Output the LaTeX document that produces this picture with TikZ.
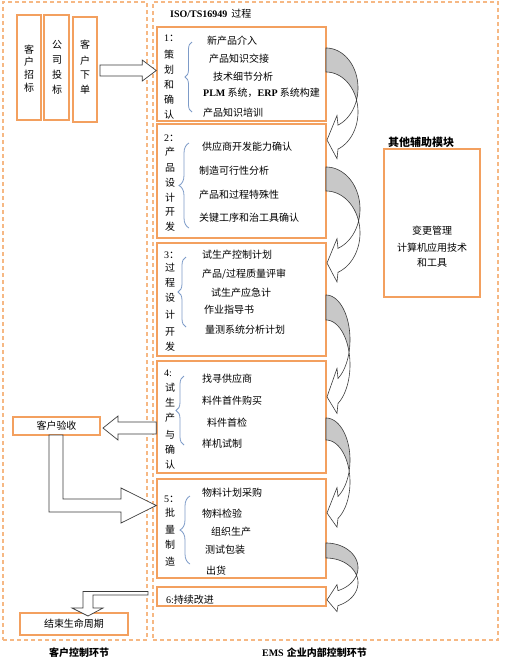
\documentclass[tikz,border=0pt]{standalone}
\usepackage{fontspec}
\setmainfont{Liberation Serif}
\newfontfamily\cjk{Noto Sans CJK SC}
\usetikzlibrary{decorations.pathreplacing,calc}
\definecolor{boxor}{RGB}{243,160,95}
\definecolor{dashor}{RGB}{246,184,132}
\definecolor{bracecol}{RGB}{125,155,200}
\definecolor{shade}{RGB}{200,200,200}
\definecolor{edge}{RGB}{60,60,60}
\newcommand\bendarrow[5]{%
  \pgfmathsetmacro\yAc{#2+#4}%
  \pgfmathsetmacro\yBc{#2+#4+#3}%
  \pgfmathsetmacro\thA{asin(#3/(2*#4))}%
  \pgfmathsetmacro\thE{acos(12/#5)}%
  \pgfmathsetmacro\yAe{\yAc+#4*sin(\thE)}%
  \pgfmathsetmacro\yBe{\yBc+#4*sin(\thE)}%
  \pgfmathsetmacro\ytip{\yAc+#4+#3/2}%
  \filldraw[fill=shade,draw=edge,line width=0.6pt]
    plot[domain=-90:\thA,samples=40,variable=\q] ({#1+#5*cos(\q)},{\yAc+#4*sin(\q)})
    -- plot[domain=-\thA:-90,samples=40,variable=\q] ({#1+#5*cos(\q)},{\yBc+#4*sin(\q)}) -- cycle;
  \filldraw[fill=white,draw=edge,line width=0.6pt]
    plot[domain=\thA:\thE,samples=40,variable=\q] ({#1+#5*cos(\q)},{\yAc+#4*sin(\q)})
    -- ({#1+11},{\yAe-0.4*#3}) -- ({#1+1},\ytip) -- ({#1+11},{\yBe+0.4*#3})
    -- plot[domain=\thE:-\thA,samples=40,variable=\q] ({#1+#5*cos(\q)},{\yBc+#4*sin(\q)}) -- cycle;
}
\begin{document}
\begin{tikzpicture}[x=1pt,y=-1pt,
  stagebox/.style={draw=boxor,line width=1.5pt,inner sep=0pt},
  zone/.style={draw=dashor,line width=1.3pt,dash pattern=on 4pt off 3pt,inner sep=0pt},
  txt/.style={font=\fontsize{10}{12}\selectfont\cjk,inner sep=0pt,anchor=west},
  vch/.style={font=\fontsize{10}{12}\selectfont\cjk,inner sep=0pt},
  brc/.style={draw=bracecol,line width=0.8pt,decorate,decoration={brace,amplitude=#1}},
  blockarrow/.style={draw=edge,fill=white,line width=0.7pt},
]
\useasboundingbox (0,0) rectangle (504,662);
\fill[white] (0,0) rectangle (504,662);
% zones
\node[zone,minimum width=144,minimum height=638] (zl) at (75,321) {};
\node[zone,minimum width=345,minimum height=638] (zr) at (325.5,321) {};
% left customer boxes
\node[stagebox,minimum width=24,minimum height=105] (c1) at (29,67.5) {};
\node[stagebox,minimum width=25,minimum height=105] (c2) at (56.5,67.5) {};
\node[stagebox,minimum width=24,minimum height=105] (c3) at (85,69.5) {};
\foreach \c/\yy [count=\k] in {客/50,户/62,招/75,标/88} \node[vch] (c1-\k) at (29,\yy) {\c};
\foreach \c/\yy [count=\k] in {公/45,司/60,投/75,标/90} \node[vch] (c2-\k) at (57,\yy) {\c};
\foreach \c/\yy [count=\k] in {客/45,户/61,下/75,单/90} \node[vch] (c3-\k) at (85,\yy) {\c};
% stage boxes
\node[stagebox,minimum width=169,minimum height=94] (s1) at (241.5,74) {};
\node[stagebox,minimum width=169,minimum height=114] (s2) at (241.5,181) {};
\node[stagebox,minimum width=169,minimum height=113] (s3) at (241.5,299.5) {};
\node[stagebox,minimum width=169,minimum height=112] (s4) at (241.5,417) {};
\node[stagebox,minimum width=169,minimum height=99] (s5) at (241.5,528.5) {};
\node[stagebox,minimum width=169,minimum height=19] (s6) at (241.5,596.5) {};
% other boxes
\node[stagebox,minimum width=96,minimum height=148] (m) at (432,223) {};
\node[stagebox,minimum width=87,minimum height=18] (v1) at (56.5,426) {};
\node[vch] (v1t) at (56.5,426) {客户验收};
\node[stagebox,minimum width=108,minimum height=22] (e1) at (74,624) {};
\node[vch] (e1t) at (74,624) {结束生命周期};
% titles
\node[txt] (title) at (170,14) {\rmfamily\bfseries ISO/TS16949\hspace{4pt}\cjk\mdseries 过程};
\node[vch,font=\fontsize{11}{13}\selectfont\cjk\bfseries] (mt) at (421,142) {其他辅助模块};
\node[vch] (m1) at (432,231) {变更管理};
\node[vch] (m2) at (432,248) {计算机应用技术};
\node[vch] (m3) at (432,263) {和工具};
\node[vch,font=\fontsize{10}{12}\selectfont\cjk\bfseries] (lb1) at (79,653) {客户控制环节};
\node[txt,anchor=east] (lb2) at (367,653) {\rmfamily\bfseries EMS\hspace{3pt}\cjk 企业内部控制环节};
% stage 1
\node[txt] (n1) at (164,38) {\rmfamily 1\cjk ：};
\foreach \c/\yy [count=\k] in {策/55,划/70,和/85,确/100,认/115} \node[vch] (v1-\k) at (169,\yy) {\c};
\draw[brc=7pt] (192,112) -- (192,42);
\node[txt] (i11) at (207,41) {新产品介入};
\node[txt] (i12) at (209,59) {产品知识交接};
\node[txt] (i13) at (213,77) {技术细节分析};
\node[txt] (i14) at (203,93) {\rmfamily\bfseries PLM\cjk\mdseries\ 系统，\rmfamily\bfseries ERP\cjk\mdseries\ 系统构建};
\node[txt] (i15) at (203,113) {产品知识培训};
% stage 2
\node[txt] (n2) at (164,138) {\rmfamily 2\cjk ：};
\foreach \c/\yy [count=\k] in {产/152,品/168,设/183,计/198,开/212,发/227} \node[vch] (v2-\k) at (170,\yy) {\c};
\draw[brc=10pt] (189,228) -- (189,143);
\node[txt] (i21) at (202,147) {供应商开发能力确认};
\node[txt] (i22) at (199,171) {制造可行性分析};
\node[txt] (i23) at (199,195) {产品和过程特殊性};
\node[txt] (i24) at (199,218) {关键工序和治工具确认};
% stage 3
\node[txt] (n3) at (164,255) {\rmfamily 3\cjk ：};
\foreach \c/\yy [count=\k] in {过/268,程/283,设/298,计/315,开/332,发/347} \node[vch] (v3-\k) at (170,\yy) {\c};
\draw[brc=8pt] (186,327) -- (186,257);
\node[txt] (i31) at (202,255) {试生产控制计划};
\node[txt] (i32) at (202,274) {产品/过程质量评审};
\node[txt] (i33) at (211,293) {试生产应急计};
\node[txt] (i34) at (204,310) {作业指导书};
\node[txt] (i35) at (205,330) {量测系统分析计划};
% stage 4
\node[txt] (n4) at (164,373) {\rmfamily 4:};
\foreach \c/\yy [count=\k] in {试/388,生/403,产/418,与/435,确/450,认/465} \node[vch] (v4-\k) at (170,\yy) {\c};
\draw[brc=8pt] (184,445) -- (184,376);
\node[txt] (i41) at (202,379) {找寻供应商};
\node[txt] (i42) at (202,401) {料件首件购买};
\node[txt] (i43) at (207,423) {料件首检};
\node[txt] (i44) at (202,444) {样机试制};
% stage 5
\node[txt] (n5) at (164,499) {\rmfamily 5\cjk ：};
\foreach \c/\yy [count=\k] in {批/513,量/530,制/545,造/562} \node[vch] (v5-\k) at (170,\yy) {\c};
\draw[brc=10pt] (190,564) -- (190,496);
\node[txt] (i51) at (202,493) {物料计划采购};
\node[txt] (i52) at (202,514) {物料检验};
\node[txt] (i53) at (211,532) {组织生产};
\node[txt] (i54) at (205,550) {测试包装};
\node[txt] (i55) at (206,571) {出货};
% stage 6
\node[txt] (i61) at (166,600) {\rmfamily 6:\cjk 持续改进};
% block arrows
\coordinate (aT) at (100,70.5);
\coordinate (aH) at (s1.west |- aT);
\draw[blockarrow] ($(aT)+(0,-5.5)$) -- ($(aH)+(-14,-5.5)$) -- ($(aH)+(-14,-10.5)$) -- (aH)
  -- ($(aH)+(-14,10.5)$) -- ($(aH)+(-14,5.5)$) -- ($(aT)+(0,5.5)$) -- cycle;
\coordinate (y428) at (0,428);
\coordinate (bT) at (s4.west |- y428);
\coordinate (bH) at (103,428);
\draw[blockarrow] ($(bT)+(0,-6)$) -- ($(bH)+(15,-6)$) -- ($(bH)+(15,-12)$) -- (bH)
  -- ($(bH)+(15,12)$) -- ($(bH)+(15,6)$) -- ($(bT)+(0,6)$) -- cycle;
\coordinate (y505) at (0,505.5);
\coordinate (cH) at (s5.west |- y505);
\draw[blockarrow] (49,435) -- (49,512) -- (121,512) -- (121,523) -- (cH) -- (121,488)
  -- (121,499) -- (63,499) -- (63,435) -- cycle;
\draw[blockarrow] (148,591.5) -- (83,591.5) -- (83,608) -- (72,608) -- (88,616) -- (103,608)
  -- (93,608) -- (93,595) -- (148,595) -- cycle;
% curved arrows between stages
\bendarrow{326}{48}{24}{40}{32}
\bendarrow{326}{167}{24}{42}{34}
\bendarrow{326}{295}{25}{44.7}{24}
\bendarrow{326}{418}{22}{42}{24}
\bendarrow{326}{543}{15}{24.7}{32}
\end{tikzpicture}
\end{document}
